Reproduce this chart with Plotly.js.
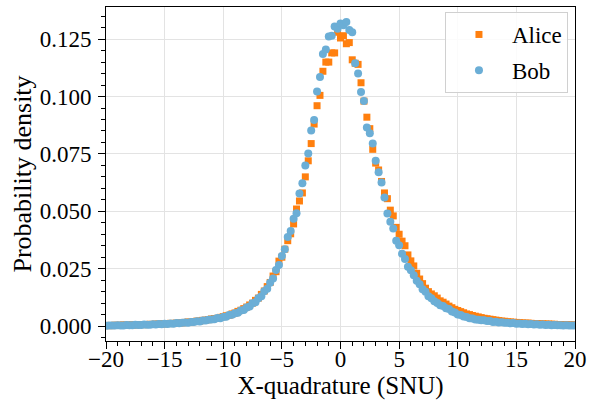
<!DOCTYPE html>
<html>
<head>
<meta charset="utf-8">
<script src="https://cdn.plot.ly/plotly-3.0.1.min.js"></script>
<style>html,body{margin:0;padding:0;background:#fff;}#chart{width:608px;height:400px;}</style>
</head>
<body>
<div id="chart"></div>
<script>
// X-quadrature bin centres (SNU)
const xBins = [
-20,-19.75,-19.5,-19.25,-19,-18.75,-18.5,-18.25,-18,-17.75,-17.5,-17.25,-17,-16.75,-16.5,-16.25,
-16,-15.75,-15.5,-15.25,-15,-14.75,-14.5,-14.25,-14,-13.75,-13.5,-13.25,-13,-12.75,-12.5,-12.25,
-12,-11.75,-11.5,-11.25,-11,-10.75,-10.5,-10.25,-10,-9.75,-9.5,-9.25,-9,-8.75,-8.5,-8.25,
-8,-7.75,-7.5,-7.25,-7,-6.75,-6.5,-6.25,-6,-5.75,-5.5,-5.25,-5,-4.75,-4.5,-4.25,
-4,-3.75,-3.5,-3.25,-3,-2.75,-2.5,-2.25,-2,-1.75,-1.5,-1.25,-1,-0.75,-0.5,-0.25,
0,
0.25,0.5,0.75,1,1.25,1.5,1.75,2,2.25,2.5,2.75,3,3.25,3.5,3.75,4,
4.25,4.5,4.75,5,5.25,5.5,5.75,6,6.25,6.5,6.75,7,7.25,7.5,7.75,8,
8.25,8.5,8.75,9,9.25,9.5,9.75,10,10.25,10.5,10.75,11,11.25,11.5,11.75,12,
12.25,12.5,12.75,13,13.25,13.5,13.75,14,14.25,14.5,14.75,15,15.25,15.5,15.75,16,
16.25,16.5,16.75,17,17.25,17.5,17.75,18,18.25,18.5,18.75,19,19.25,19.5,19.75,20
];

// Alice probability density
const aliceY = [
0.0003,0.0002,0.0002,0.0004,0.0003,0.0004,0.0005,0.0004,0.0005,0.0005,0.0005,0.0006,0.0007,0.0006,0.0007,0.0008,
0.0007,0.0009,0.0009,0.0010,0.0009,0.0011,0.0012,0.0011,0.0013,0.0014,0.0014,0.0016,0.0018,0.0017,0.0020,0.0022,
0.0022,0.0025,0.0026,0.0028,0.0031,0.0033,0.0034,0.0038,0.0041,0.0045,0.0047,0.0053,0.0057,0.0064,0.0069,0.0076,
0.0083,0.0092,0.0100,0.0112,0.0122,0.0138,0.0153,0.0172,0.0190,0.0218,0.0237,0.0283,0.0300,0.0335,0.0372,0.0402,
0.0445,0.0510,0.0545,0.0580,0.0650,0.0720,0.0795,0.0880,0.0960,0.1005,0.1110,0.1150,0.1150,0.1190,0.1190,0.1280,
0.1255,
0.1265,0.1230,0.1235,0.1160,0.1145,0.1140,0.1060,0.0980,0.0910,0.0860,0.0770,0.0710,0.0680,0.0630,0.0580,0.0555,
0.0505,0.0480,0.0430,0.0400,0.0370,0.0350,0.0310,0.0284,0.0262,0.0230,0.0205,0.0185,0.0165,0.0150,0.0140,0.0132,
0.0122,0.0110,0.0104,0.0096,0.0087,0.0080,0.0073,0.0068,0.0063,0.0058,0.0053,0.0050,0.0046,0.0043,0.0040,0.0037,
0.0034,0.0032,0.0030,0.0028,0.0026,0.0024,0.0022,0.0021,0.0019,0.0018,0.0017,0.0016,0.0015,0.0014,0.0013,0.0013,
0.0012,0.0011,0.0011,0.0010,0.0010,0.0009,0.0009,0.0008,0.0008,0.0007,0.0007,0.0006,0.0006,0.0006,0.0005,0.0005
];

// Bob probability density
const bobY = [
0.0001,0.0002,0.0003,0.0002,0.0004,0.0003,0.0003,0.0005,0.0004,0.0004,0.0006,0.0005,0.0005,0.0007,0.0006,0.0006,
0.0008,0.0007,0.0009,0.0008,0.0010,0.0009,0.0011,0.0010,0.0013,0.0012,0.0014,0.0016,0.0015,0.0018,0.0018,0.0021,
0.0020,0.0024,0.0024,0.0028,0.0029,0.0030,0.0035,0.0034,0.0040,0.0041,0.0048,0.0049,0.0056,0.0058,0.0068,0.0070,
0.0081,0.0085,0.0099,0.0104,0.0121,0.0130,0.0152,0.0163,0.0189,0.0207,0.0244,0.0266,0.0305,0.0335,0.0388,0.0414,
0.0468,0.0492,0.0578,0.0622,0.0700,0.0752,0.0852,0.0898,0.1022,0.1085,0.1185,0.1205,0.1262,0.1265,0.1305,0.1295,
0.1318,
0.1310,0.1325,0.1290,0.1280,0.1145,0.1100,0.1020,0.0980,0.0865,0.0840,0.0795,0.0720,0.0670,0.0625,0.0560,0.0490,
0.0455,0.0425,0.0372,0.0352,0.0315,0.0292,0.0258,0.0243,0.0221,0.0197,0.0182,0.0160,0.0150,0.0130,0.0121,0.0108,
0.0101,0.0091,0.0087,0.0078,0.0074,0.0064,0.0059,0.0050,0.0048,0.0042,0.0040,0.0034,0.0033,0.0029,0.0028,0.0025,
0.0025,0.0022,0.0022,0.0018,0.0019,0.0016,0.0017,0.0014,0.0014,0.0012,0.0013,0.0010,0.0011,0.0009,0.0010,0.0008,
0.0009,0.0007,0.0008,0.0006,0.0007,0.0005,0.0006,0.0004,0.0005,0.0004,0.0004,0.0003,0.0004,0.0002,0.0003,0.0002
];

const seriesNames = ['Alice', 'Bob'];
const seriesColors = ['#ff7f0e', '#6baed6'];

const FONT = 'Liberation Serif, Times New Roman, serif';

const traces = [
  {
    x: xBins, y: aliceY, name: seriesNames[0], type: 'scatter', mode: 'markers',
    legendgroup: 'a',
    marker: {symbol: 'square', size: 7, color: seriesColors[0]}
  },
  {
    x: xBins, y: bobY, name: seriesNames[1], type: 'scatter', mode: 'markers',
    legendgroup: 'b',
    marker: {symbol: 'circle', size: 8, color: seriesColors[1]}
  }
];

const axisCommon = {
  showline: true, linecolor: '#000', linewidth: 1, mirror: true,
  ticks: 'outside', ticklen: 7, tickwidth: 1, tickcolor: '#000',
  showgrid: true, gridcolor: '#e3e3e3', gridwidth: 1, zeroline: false,
  tickfont: {family: FONT, size: 23, color: '#000'}
};

const layout = {
  width: 608, height: 400,
  margin: {l: 106, r: 33, t: 7, b: 59},
  paper_bgcolor: '#fff', plot_bgcolor: '#fff',
  font: {family: FONT, size: 23, color: '#000'},
  showlegend: true,
  legend: {
    x: 0.985, y: 0.985, xanchor: 'right', yanchor: 'top',
    bgcolor: 'rgba(255,255,255,0.85)', bordercolor: '#d0d0d0', borderwidth: 1,
    traceorder: 'grouped', tracegroupgap: 3, itemwidth: 56,
    font: {family: FONT, size: 23, color: '#000'}
  },
  xaxis: Object.assign({}, axisCommon, {
    range: [-20, 20], tick0: -20, dtick: 5,
    ticklabelstandoff: -10,
    minor: {dtick: 1, ticks: 'outside', ticklen: 4, tickcolor: '#000', showgrid: false},
    title: {text: 'X-quadrature (SNU)', font: {family: FONT, size: 25, color: '#000'}, standoff: 0}
  }),
  yaxis: Object.assign({}, axisCommon, {
    range: [-0.0065, 0.139], tick0: 0, dtick: 0.025, tickformat: '.3f',
    ticklabelstandoff: 2,
    minor: {dtick: 0.005, ticks: 'outside', ticklen: 4, tickcolor: '#000', showgrid: false},
    title: {text: 'Probability density', font: {family: FONT, size: 26, color: '#000'}, standoff: 0}
  })
};

Plotly.newPlot('chart', traces, layout, {displayModeBar: false, staticPlot: true});
</script>
</body>
</html>
